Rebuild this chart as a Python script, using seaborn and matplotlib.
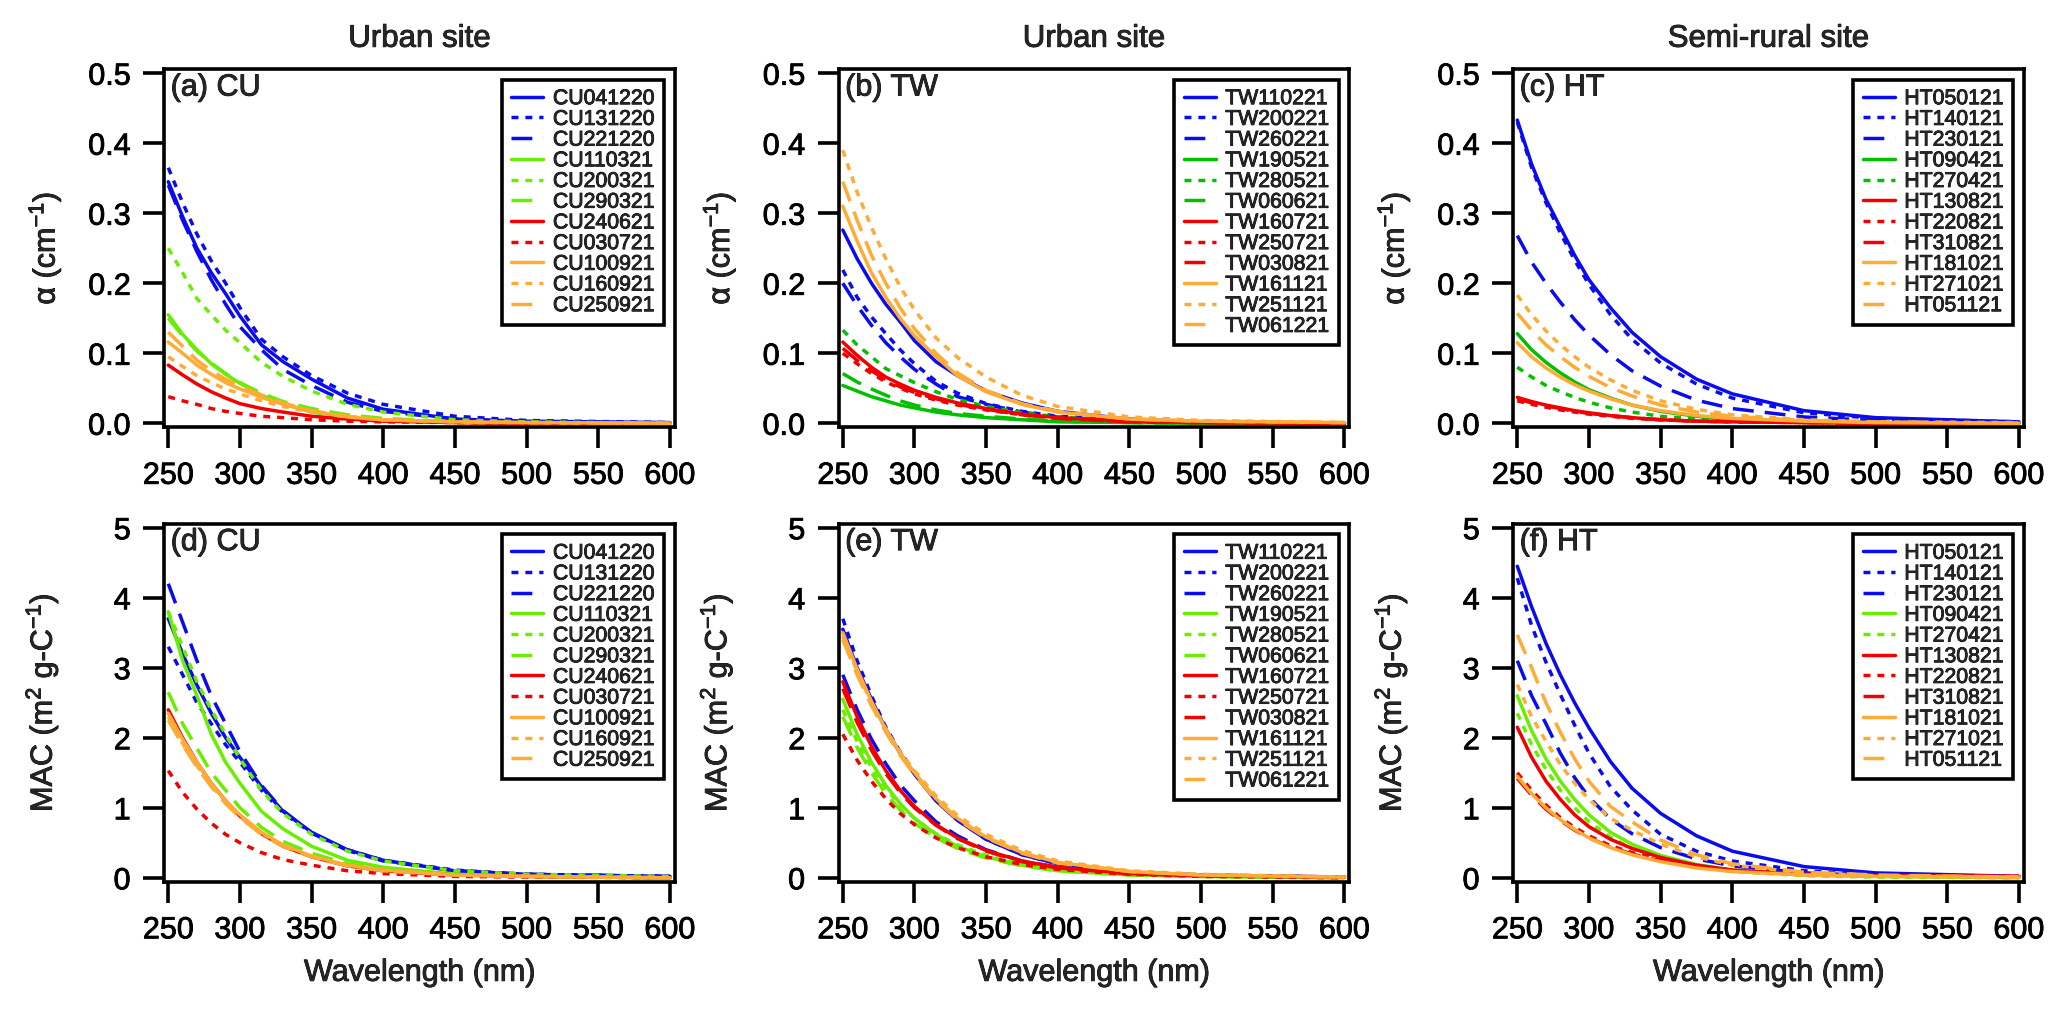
import matplotlib
matplotlib.use("Agg")
import matplotlib.pyplot as plt
import matplotlib.patheffects as pe
from matplotlib.text import Text
import seaborn as sns

wavelength = [250, 260, 270, 280, 290, 300, 315, 330, 350, 375, 400, 450, 500, 600]

# ---- absorption coefficient alpha (cm-1) ----
cu_alpha = {
    "CU041220": [0.345, 0.295, 0.25, 0.215, 0.185, 0.153, 0.112, 0.088, 0.063, 0.036, 0.02, 0.006, 0.003, 0.001],
    "CU131220": [0.365, 0.315, 0.27, 0.232, 0.2, 0.165, 0.12, 0.095, 0.068, 0.043, 0.027, 0.01, 0.004, 0.001],
    "CU221220": [0.34, 0.29, 0.245, 0.205, 0.17, 0.138, 0.105, 0.077, 0.054, 0.03, 0.017, 0.006, 0.002, 0.0],
    "CU110321": [0.155, 0.127, 0.105, 0.085, 0.07, 0.057, 0.04, 0.028, 0.016, 0.008, 0.004, 0.001, 0.0, 0.0],
    "CU200321": [0.25, 0.215, 0.178, 0.155, 0.133, 0.115, 0.087, 0.067, 0.046, 0.027, 0.016, 0.005, 0.002, 0.0],
    "CU290321": [0.15, 0.125, 0.103, 0.086, 0.071, 0.058, 0.043, 0.031, 0.021, 0.012, 0.007, 0.002, 0.001, 0.0],
    "CU240621": [0.083, 0.069, 0.056, 0.045, 0.036, 0.028, 0.021, 0.016, 0.01, 0.006, 0.003, 0.001, 0.0, 0.0],
    "CU030721": [0.038, 0.032, 0.027, 0.021, 0.017, 0.014, 0.01, 0.008, 0.005, 0.003, 0.002, 0.001, 0.0, 0.0],
    "CU100921": [0.116, 0.1, 0.083, 0.07, 0.058, 0.049, 0.037, 0.027, 0.017, 0.009, 0.005, 0.002, 0.001, 0.0],
    "CU160921": [0.095, 0.081, 0.068, 0.058, 0.049, 0.042, 0.032, 0.024, 0.016, 0.009, 0.005, 0.002, 0.001, 0.0],
    "CU250921": [0.13, 0.11, 0.09, 0.075, 0.063, 0.053, 0.04, 0.029, 0.018, 0.01, 0.005, 0.002, 0.001, 0.0],
}
tw_alpha = {
    "TW110221": [0.276, 0.235, 0.2, 0.17, 0.145, 0.118, 0.088, 0.068, 0.046, 0.029, 0.017, 0.006, 0.002, 0.0],
    "TW200221": [0.219, 0.18, 0.152, 0.128, 0.105, 0.085, 0.06, 0.043, 0.028, 0.017, 0.01, 0.004, 0.001, 0.0],
    "TW260221": [0.2, 0.168, 0.14, 0.115, 0.095, 0.077, 0.056, 0.038, 0.027, 0.016, 0.009, 0.003, 0.001, 0.0],
    "TW190521": [0.054, 0.046, 0.038, 0.032, 0.026, 0.022, 0.016, 0.012, 0.008, 0.005, 0.002, 0.001, 0.0, 0.0],
    "TW280521": [0.133, 0.112, 0.095, 0.078, 0.068, 0.058, 0.045, 0.034, 0.024, 0.015, 0.009, 0.003, 0.001, 0.0],
    "TW060621": [0.071, 0.059, 0.049, 0.04, 0.032, 0.026, 0.019, 0.014, 0.01, 0.006, 0.003, 0.001, 0.0, 0.0],
    "TW160721": [0.116, 0.097, 0.08, 0.066, 0.056, 0.047, 0.037, 0.029, 0.021, 0.013, 0.008, 0.003, 0.001, 0.0],
    "TW250721": [0.1, 0.085, 0.071, 0.059, 0.05, 0.042, 0.033, 0.026, 0.019, 0.012, 0.007, 0.002, 0.001, 0.0],
    "TW030821": [0.107, 0.09, 0.075, 0.062, 0.052, 0.044, 0.035, 0.027, 0.02, 0.012, 0.007, 0.002, 0.001, 0.0],
    "TW161121": [0.31, 0.26, 0.215, 0.18, 0.15, 0.125, 0.095, 0.068, 0.045, 0.027, 0.016, 0.006, 0.003, 0.001],
    "TW251121": [0.39, 0.33, 0.28, 0.235, 0.195, 0.162, 0.122, 0.094, 0.066, 0.04, 0.024, 0.009, 0.004, 0.001],
    "TW061221": [0.345, 0.29, 0.24, 0.2, 0.165, 0.135, 0.1, 0.072, 0.047, 0.028, 0.017, 0.006, 0.003, 0.001],
}
ht_alpha = {
    "HT050121": [0.433, 0.37, 0.32, 0.28, 0.24, 0.205, 0.165, 0.13, 0.095, 0.063, 0.042, 0.018, 0.008, 0.002],
    "HT140121": [0.43, 0.365, 0.315, 0.272, 0.233, 0.198, 0.155, 0.12, 0.086, 0.056, 0.036, 0.015, 0.007, 0.002],
    "HT230121": [0.268, 0.23, 0.2, 0.173, 0.148, 0.126, 0.098, 0.075, 0.053, 0.033, 0.021, 0.009, 0.004, 0.001],
    "HT090421": [0.128, 0.105, 0.087, 0.072, 0.059, 0.048, 0.036, 0.026, 0.017, 0.01, 0.006, 0.002, 0.001, 0.0],
    "HT270421": [0.08, 0.066, 0.054, 0.045, 0.037, 0.03, 0.022, 0.016, 0.01, 0.006, 0.003, 0.001, 0.0, 0.0],
    "HT130821": [0.037, 0.031, 0.026, 0.022, 0.018, 0.015, 0.011, 0.008, 0.005, 0.003, 0.002, 0.001, 0.0, 0.0],
    "HT220821": [0.032, 0.027, 0.023, 0.019, 0.016, 0.013, 0.01, 0.007, 0.005, 0.003, 0.002, 0.001, 0.0, 0.0],
    "HT310821": [0.035, 0.029, 0.025, 0.021, 0.017, 0.014, 0.011, 0.008, 0.005, 0.003, 0.002, 0.001, 0.0, 0.0],
    "HT181021": [0.115, 0.095, 0.079, 0.066, 0.055, 0.046, 0.035, 0.026, 0.018, 0.011, 0.007, 0.003, 0.001, 0.0],
    "HT271021": [0.183, 0.155, 0.132, 0.112, 0.095, 0.08, 0.062, 0.047, 0.032, 0.02, 0.012, 0.005, 0.002, 0.001],
    "HT051121": [0.157, 0.133, 0.112, 0.095, 0.08, 0.067, 0.051, 0.039, 0.026, 0.016, 0.01, 0.004, 0.002, 0.0],
}

# ---- mass absorption cross-section MAC (m2 g-C-1) ----
cu_mac = {
    "CU041220": [3.7, 3.2, 2.75, 2.35, 2.0, 1.72, 1.3, 0.95, 0.65, 0.4, 0.25, 0.1, 0.05, 0.02],
    "CU131220": [3.3, 2.9, 2.5, 2.2, 1.9, 1.65, 1.25, 0.93, 0.64, 0.4, 0.25, 0.11, 0.05, 0.02],
    "CU221220": [4.2, 3.65, 3.1, 2.6, 2.2, 1.8, 1.32, 0.96, 0.64, 0.39, 0.24, 0.1, 0.05, 0.02],
    "CU110321": [3.8, 3.1, 2.6, 2.05, 1.65, 1.35, 0.95, 0.7, 0.45, 0.25, 0.15, 0.05, 0.02, 0.0],
    "CU200321": [3.8, 3.3, 2.8, 2.4, 2.05, 1.7, 1.25, 0.92, 0.62, 0.38, 0.24, 0.1, 0.05, 0.02],
    "CU290321": [2.65, 2.2, 1.85, 1.5, 1.25, 1.0, 0.72, 0.52, 0.35, 0.2, 0.12, 0.05, 0.02, 0.0],
    "CU240621": [2.4, 2.0, 1.65, 1.35, 1.1, 0.88, 0.63, 0.45, 0.3, 0.17, 0.1, 0.04, 0.02, 0.0],
    "CU030721": [1.53, 1.22, 0.98, 0.78, 0.62, 0.5, 0.36, 0.26, 0.18, 0.1, 0.06, 0.02, 0.01, 0.0],
    "CU100921": [2.35, 1.98, 1.65, 1.35, 1.1, 0.9, 0.65, 0.47, 0.31, 0.18, 0.11, 0.04, 0.02, 0.0],
    "CU160921": [2.3, 1.92, 1.6, 1.32, 1.08, 0.88, 0.64, 0.46, 0.3, 0.18, 0.1, 0.04, 0.02, 0.0],
    "CU250921": [2.25, 1.9, 1.58, 1.3, 1.06, 0.86, 0.62, 0.45, 0.3, 0.17, 0.1, 0.04, 0.02, 0.0],
}
tw_mac = {
    "TW110221": [3.55, 3.0, 2.55, 2.12, 1.78, 1.48, 1.1, 0.82, 0.55, 0.33, 0.2, 0.08, 0.04, 0.01],
    "TW200221": [3.7, 3.1, 2.6, 2.15, 1.8, 1.5, 1.12, 0.83, 0.55, 0.33, 0.2, 0.08, 0.04, 0.01],
    "TW260221": [2.9, 2.4, 1.98, 1.63, 1.33, 1.1, 0.8, 0.6, 0.4, 0.24, 0.15, 0.06, 0.03, 0.01],
    "TW190521": [2.55, 2.05, 1.65, 1.32, 1.06, 0.85, 0.62, 0.45, 0.3, 0.18, 0.1, 0.04, 0.02, 0.0],
    "TW280521": [2.4, 1.95, 1.58, 1.28, 1.04, 0.85, 0.63, 0.47, 0.32, 0.2, 0.12, 0.05, 0.02, 0.0],
    "TW060621": [2.3, 1.86, 1.5, 1.2, 0.97, 0.78, 0.57, 0.42, 0.28, 0.17, 0.1, 0.04, 0.02, 0.0],
    "TW160721": [2.8, 2.3, 1.88, 1.53, 1.25, 1.02, 0.76, 0.57, 0.39, 0.24, 0.15, 0.06, 0.03, 0.01],
    "TW250721": [2.05, 1.68, 1.38, 1.13, 0.92, 0.76, 0.57, 0.43, 0.3, 0.19, 0.12, 0.05, 0.02, 0.0],
    "TW030821": [2.7, 2.22, 1.82, 1.49, 1.22, 1.0, 0.75, 0.56, 0.38, 0.23, 0.14, 0.06, 0.03, 0.01],
    "TW161121": [3.5, 2.98, 2.52, 2.12, 1.78, 1.5, 1.13, 0.85, 0.58, 0.36, 0.22, 0.09, 0.04, 0.01],
    "TW251121": [3.45, 2.95, 2.5, 2.12, 1.8, 1.53, 1.17, 0.89, 0.62, 0.39, 0.24, 0.1, 0.05, 0.01],
    "TW061221": [3.4, 2.9, 2.46, 2.08, 1.75, 1.47, 1.11, 0.83, 0.57, 0.35, 0.21, 0.09, 0.04, 0.01],
}
ht_mac = {
    "HT050121": [4.45, 3.87, 3.35, 2.9, 2.5, 2.14, 1.66, 1.28, 0.92, 0.6, 0.38, 0.16, 0.07, 0.02],
    "HT140121": [4.28, 3.6, 3.08, 2.62, 2.18, 1.78, 1.3, 0.97, 0.62, 0.38, 0.24, 0.1, 0.04, 0.01],
    "HT230121": [3.1, 2.6, 2.2, 1.78, 1.43, 1.15, 0.84, 0.63, 0.43, 0.27, 0.17, 0.07, 0.03, 0.01],
    "HT090421": [2.6, 2.1, 1.7, 1.38, 1.12, 0.9, 0.65, 0.48, 0.32, 0.19, 0.11, 0.04, 0.02, 0.0],
    "HT270421": [2.35, 1.9, 1.55, 1.25, 1.0, 0.8, 0.58, 0.42, 0.28, 0.16, 0.09, 0.03, 0.01, 0.0],
    "HT130821": [2.15, 1.72, 1.38, 1.12, 0.9, 0.73, 0.55, 0.42, 0.29, 0.18, 0.11, 0.05, 0.03, 0.02],
    "HT220821": [1.5, 1.25, 1.04, 0.86, 0.72, 0.6, 0.46, 0.36, 0.26, 0.17, 0.11, 0.05, 0.03, 0.02],
    "HT310821": [1.42, 1.18, 0.98, 0.82, 0.68, 0.57, 0.44, 0.34, 0.24, 0.16, 0.1, 0.05, 0.03, 0.02],
    "HT181021": [1.45, 1.2, 1.0, 0.83, 0.69, 0.57, 0.43, 0.33, 0.23, 0.14, 0.09, 0.04, 0.02, 0.01],
    "HT271021": [2.76, 2.3, 1.95, 1.62, 1.35, 1.12, 0.85, 0.68, 0.48, 0.3, 0.18, 0.07, 0.03, 0.01],
    "HT051121": [3.47, 3.0, 2.5, 2.08, 1.7, 1.38, 1.02, 0.8, 0.54, 0.33, 0.2, 0.08, 0.04, 0.01],
}

# colour group and line style of each sample, in legend order
cu_groups = ["blue", "blue", "blue", "green", "green", "green", "red", "red", "orange", "orange", "orange"]
cu_styles = ["solid", "dot", "dash", "solid", "dot", "dash", "solid", "dot", "solid", "dot", "dash"]
tw_groups = ["blue"] * 3 + ["green"] * 3 + ["red"] * 3 + ["orange"] * 3
tw_styles = ["solid", "dot", "dash"] * 4
ht_groups = ["blue"] * 3 + ["green"] * 2 + ["red"] * 3 + ["orange"] * 3
ht_styles = ["solid", "dot", "dash", "solid", "dot", "solid", "dot", "dash", "solid", "dot", "dash"]

site_titles = ["Urban site", "Urban site", "Semi-rural site"]
panel_tags = [["(a) CU", "(b) TW", "(c) HT"], ["(d) CU", "(e) TW", "(f) HT"]]

BLUE = "#0b0bf0"
RED = "#f20000"
ORANGE = "#ffab36"
GREEN = "#00c000"
LIME = "#6aee00"
dash_map = {"solid": "-", "dot": (0, (2.0, 2.0)), "dash": (0, (6.0, 3.2))}

sns.set_style("ticks")
plt.rcParams["font.family"] = ["Liberation Sans", "DejaVu Sans"]
plt.rcParams["mathtext.fontset"] = "custom"
plt.rcParams["mathtext.rm"] = "Liberation Sans"
plt.rcParams["mathtext.it"] = "Liberation Sans"

fig, axes = plt.subplots(2, 3, figsize=(20.67, 10.09), dpi=100)
fig.subplots_adjust(left=164 / 2067, right=2024 / 2067, bottom=1 - 882 / 1009,
                    top=1 - 69 / 1009, wspace=0.32, hspace=0.268)

panels = [
    [(cu_alpha, cu_groups, cu_styles, LIME), (tw_alpha, tw_groups, tw_styles, GREEN),
     (ht_alpha, ht_groups, ht_styles, GREEN)],
    [(cu_mac, cu_groups, cu_styles, LIME), (tw_mac, tw_groups, tw_styles, LIME),
     (ht_mac, ht_groups, ht_styles, LIME)],
]

for r in range(2):
    for c in range(3):
        ax = axes[r, c]
        data, groups, styles, green = panels[r][c]
        cmap = {"blue": BLUE, "green": green, "red": RED, "orange": ORANGE}
        for (name, vals), g, s in zip(data.items(), groups, styles):
            sns.lineplot(x=wavelength, y=vals, ax=ax, color=cmap[g], linewidth=2.5,
                         label=name, legend=False)
            ax.lines[-1].set_linestyle(dash_map[s])

        ax.set_xlim(247, 603.5)
        ax.set_xticks(range(250, 601, 50))
        if r == 0:
            ax.set_ylim(-0.006, 0.506)
            ax.set_yticks([0.0, 0.1, 0.2, 0.3, 0.4, 0.5])
            ax.set_yticklabels(["0.0", "0.1", "0.2", "0.3", "0.4", "0.5"])
            ax.set_ylabel(r"α (cm$^{-1}$)", fontsize=22)
            ax.yaxis.set_label_coords(-0.196, 0.5)
            ax.set_title(site_titles[c], fontsize=22.5, pad=16)
        else:
            ax.set_ylim(-0.06, 5.06)
            ax.set_yticks([0, 1, 2, 3, 4, 5])
            ax.set_ylabel(r"MAC (m$^{2}$ g-C$^{-1}$)", fontsize=22)
            ax.yaxis.set_label_coords(-0.202, 0.5)
            ax.set_xlabel("Wavelength (nm)", fontsize=22, labelpad=9)

        ax.tick_params(axis="both", direction="out", length=15, width=2.6,
                       labelsize=22, pad=9, colors="black")
        for sp in ax.spines.values():
            sp.set_visible(True)
            sp.set_linewidth(2.6)
            sp.set_color("black")

        ax.text(0.013, 0.99, panel_tags[r][c], transform=ax.transAxes,
                ha="left", va="top", fontsize=22)

        leg = ax.legend(loc="upper right", fontsize=15.3, frameon=True, fancybox=False,
                        framealpha=1, edgecolor="black", handlelength=1.5,
                        handletextpad=0.45, labelspacing=0.08, borderpad=0.45,
                        borderaxespad=0.5)
        leg.get_frame().set_linewidth(2.6)

# the original glyphs are drawn a little heavier than Liberation Sans regular
for t in fig.findobj(Text):
    if t.get_text():
        t.set_path_effects([pe.withStroke(linewidth=0.6, foreground="black")])

fig.savefig("out.png", dpi=100)
